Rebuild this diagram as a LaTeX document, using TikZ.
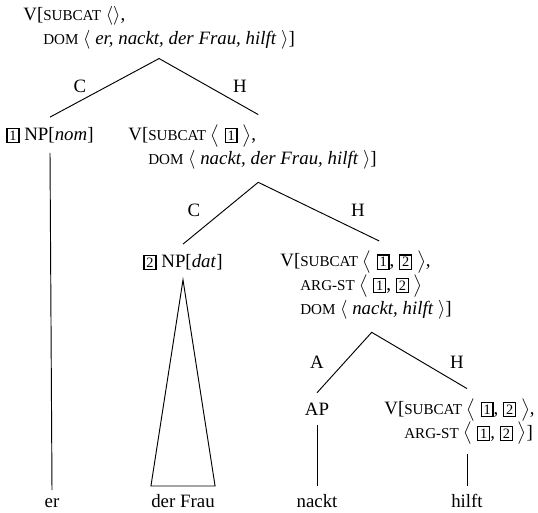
\documentclass[tikz,border=0pt]{standalone}
\usepackage{fontspec}
\setmainfont{Liberation Serif}
\usepackage{tikz}
\usetikzlibrary{calc}

\newcommand{\feat}[1]{{\fontsize{8}{9}\selectfont #1}}
\newcommand{\tagnum}[1]{{\setlength{\fboxsep}{0.9pt}\setlength{\fboxrule}{0.7pt}\fbox{\fontsize{7.6}{7.6}\selectfont #1}}}
\newcommand{\indnt}{\phantom{V[}}

\begin{document}
\begin{tikzpicture}[x=0.53pt, y=-0.53pt,
    cat/.style={inner xsep=0pt, inner ysep=5pt, align=left, anchor=base west, font=\fontsize{10}{12.5}\selectfont},
    phr/.style={inner xsep=0pt, inner ysep=5pt, anchor=base, font=\fontsize{10}{12.5}\selectfont},
    word/.style={inner xsep=0pt, inner ysep=4pt, anchor=base, font=\fontsize{10}{12.5}\selectfont},
    lbl/.style={inner sep=0pt, anchor=base, font=\fontsize{10}{12.5}\selectfont},
    branch/.style={line width=0.5pt}]
    \useasboundingbox (0,0) rectangle (538,512);

    % mother nodes (base = last line)
    \node[cat] (v1) at (23,44) {V[\feat{SUBCAT} $\langle\rangle$,\\
        \indnt\feat{DOM} $\langle$ \textit{er, nackt, der Frau, hilft} $\rangle$]};
    \node[cat] (v2) at (128,164) {V[\feat{SUBCAT} $\big\langle$ \tagnum{1} $\big\rangle$,\\
        \indnt\feat{DOM} $\langle$ \textit{nackt, der Frau, hilft} $\rangle$]};
    \node[cat] (v3) at (280,314) {V[\feat{SUBCAT} $\big\langle$ \tagnum{1}, \tagnum{2} $\big\rangle$,\\
        \indnt\feat{ARG-ST} $\big\langle$ \tagnum{1}, \tagnum{2} $\big\rangle$\\
        \indnt\feat{DOM} $\langle$ \textit{nackt, hilft} $\rangle$]};
    \node[cat] (v4) at (384,438) {V[\feat{SUBCAT} $\big\langle$ \tagnum{1}, \tagnum{2} $\big\rangle$,\\
        \indnt\feat{ARG-ST} $\big\langle$ \tagnum{1}, \tagnum{2} $\big\rangle$]};

    % non-head daughters
    \node[phr] (np1) at (50,140) {\tagnum{1} NP[\textit{nom}]};
    \node[phr] (np2) at (183,267) {\tagnum{2} NP[\textit{dat}]};
    \node[phr] (ap) at (317,415) {AP};

    % words
    \node[word] (er) at (52,507) {er};
    \node[word] (frau) at (183,507) {der Frau};
    \node[word] (nackt) at (317,507) {nackt};
    \node[word] (hilft) at (467,507) {hilft};

    % branch labels
    \node[lbl] (c1) at (80,92) {C};
    \node[lbl] (h1) at (240,92) {H};
    \node[lbl] (c2) at (194,216) {C};
    \node[lbl] (h2) at (358,216) {H};
    \node[lbl] (a3l) at (317,368) {A};
    \node[lbl] (h3) at (457,368) {H};

    % branches
    \coordinate (a1) at (v1.south);
    \coordinate (a2) at ([xshift=3pt,yshift=-2pt]v2.south);
    \coordinate (a3) at ([xshift=3pt,yshift=-2pt]v3.south);
    \draw[branch] (np1.north) -- (a1) -- ([xshift=3pt]v2.north);
    \draw[branch] (np2.north) -- (a2) -- ([xshift=7pt]v3.north);
    \draw[branch] (ap.north) -- (a3) -- (v4.north -| hilft);

    % unary branches and triangle
    \draw[branch] (np1.south) -- (er.north);
    \draw[branch] (ap.south) -- (nackt.north);
    \draw[branch] (v4.south -| hilft) -- (hilft.north);
    \draw[branch] (np2.south) -- (frau.north west) -- (frau.north east) -- cycle;
\end{tikzpicture}
\end{document}
